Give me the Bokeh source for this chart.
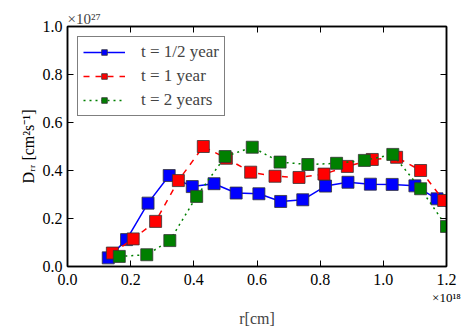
from bokeh.plotting import figure
from bokeh.models import (LinearAxis, FixedTicker, PrintfTickFormatter, Legend,
                          LegendItem, Title, Range1d, CustomJSTickFormatter)
from bokeh.embed import file_html
from bokeh.resources import INLINE

# r in units of 1e18 cm, D_rr in units of 1e27 cm^2 s^-1
r_half = [0.129, 0.187, 0.255, 0.322, 0.395, 0.464, 0.534, 0.606, 0.675, 0.745,
          0.817, 0.888, 0.959, 1.028, 1.100, 1.170, 1.240]
d_half = [0.036, 0.112, 0.264, 0.379, 0.333, 0.345, 0.306, 0.303, 0.271, 0.278,
          0.335, 0.351, 0.343, 0.342, 0.336, 0.282, 0.205]
r_one = [0.142, 0.208, 0.279, 0.351, 0.430, 0.503, 0.580, 0.657, 0.733, 0.812,
         0.886, 0.965, 1.042, 1.118, 1.191]
d_one = [0.056, 0.115, 0.188, 0.358, 0.500, 0.451, 0.393, 0.376, 0.371, 0.385,
         0.417, 0.446, 0.455, 0.400, 0.275]
r_two = [0.164, 0.251, 0.324, 0.409, 0.499, 0.585, 0.673, 0.761, 0.852, 0.940,
         1.030, 1.118, 1.200]
d_two = [0.042, 0.049, 0.108, 0.292, 0.458, 0.497, 0.435, 0.425, 0.430, 0.442,
         0.467, 0.324, 0.167]

labels = ["t = 1/2 year", "t = 1 year", "t = 2 years"]
colors = ["#0000ff", "#ff0000", "#008000"]
x_ticks = [0.0, 0.2, 0.4, 0.6, 0.8, 1.0, 1.2]
y_ticks = [0.0, 0.2, 0.4, 0.6, 0.8, 1.0]

FONT = "Liberation Serif"

p = figure(output_backend="svg", toolbar_location=None,
           frame_width=379, frame_height=240,
           min_border_left=67, min_border_right=23,
           min_border_top=26, min_border_bottom=61,
           x_range=Range1d(0, 1.2), y_range=Range1d(0, 1.0))
p.grid.visible = False
p.outline_line_color = "black"
p.outline_line_width = 1.5
p.background_fill_color = "white"
p.border_fill_color = "white"

p.title.text = "×10²⁷"
p.title.align = "left"
p.title.text_font = FONT
p.title.text_font_size = "15px"
p.title.text_font_style = "normal"
try:
    p.title.standoff = 0
except Exception:
    pass

for ax in (p.xaxis[0], p.yaxis[0]):
    ax.major_tick_in = 6
    ax.major_tick_out = 0
    ax.minor_tick_line_color = None
    ax.axis_line_width = 1.5
    ax.major_tick_line_width = 1
    ax.major_label_text_font = FONT
    ax.major_label_text_font_size = "16px"
    ax.major_label_text_color = "black"
    ax.axis_label_text_font = FONT
    ax.axis_label_text_font_size = "16px"
    ax.axis_label_text_font_style = "normal"
    ax.axis_label_text_color = "black"
    ax.formatter = PrintfTickFormatter(format="%.1f")

p.xaxis[0].ticker = FixedTicker(ticks=x_ticks)
p.yaxis[0].ticker = FixedTicker(ticks=y_ticks)
p.xaxis[0].axis_label = "×10¹⁸"
p.xaxis[0].axis_label_align = "end"
p.xaxis[0].axis_label_text_font_size = "13px"
p.yaxis[0].axis_label = "Dᵣᵣ [cm²s⁻¹]"
p.xaxis[0].major_label_standoff = 7
p.yaxis[0].major_label_standoff = 5
p.xaxis[0].axis_label_standoff = 2
p.yaxis[0].axis_label_standoff = 3

xt = Title(text="r[cm]", align="center", text_font=FONT, text_font_size="16px",
           text_font_style="normal")
try:
    xt.standoff = 0
except Exception:
    pass
p.add_layout(xt, "below")

blank = CustomJSTickFormatter(code="return ''")
for loc, ticks in (("above", x_ticks), ("right", y_ticks)):
    ax = LinearAxis(ticker=FixedTicker(ticks=ticks), major_tick_in=6,
                    major_tick_out=0, minor_tick_line_color=None,
                    formatter=blank, axis_line_width=1.5,
                    major_label_standoff=0, major_label_text_font_size="1px")
    p.add_layout(ax, loc)

items = []
styles = [("solid", 1.5), ("6 6", 1.5), ("2 4", 1.5)]
for r, d, c, lab, (dash, lw) in zip([r_half, r_one, r_two], [d_half, d_one, d_two],
                                    colors, labels, styles):
    ln = p.line(r, d, line_color=c, line_width=lw, line_dash=dash)
    sc = p.scatter(r, d, marker="square", size=12, fill_color=c,
                   line_color="#333333", line_width=0.8)
    items.append(LegendItem(label=lab, renderers=[ln, sc]))

leg = Legend(items=items, location="top_left", margin=10,
             label_text_font=FONT, label_text_font_size="17px",
             glyph_width=42, glyph_height=14, label_standoff=16,
             spacing=4, padding=5, border_line_color="black",
             border_line_width=1.5, background_fill_alpha=1.0)
p.add_layout(leg)

open("out.html", "w").write(file_html(p, INLINE))
